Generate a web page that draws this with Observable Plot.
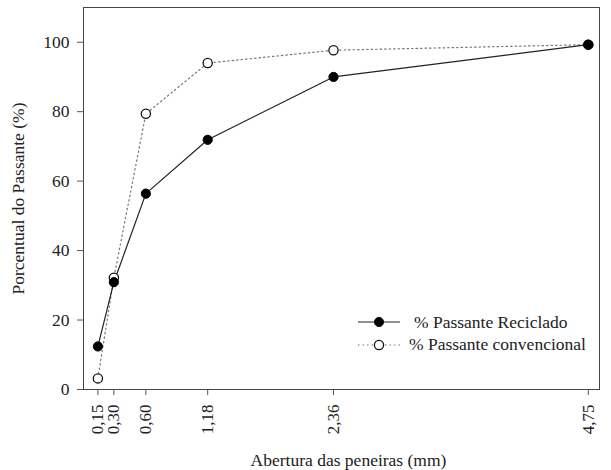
<!DOCTYPE html>
<html>
<head>
<meta charset="utf-8">
<script src="https://cdn.jsdelivr.net/npm/d3@7"></script>
<script src="https://cdn.jsdelivr.net/npm/@observablehq/plot@0.6"></script>
<style>
  html, body { margin: 0; padding: 0; background: #fff; }
  #wrap { position: relative; width: 611px; height: 470px; font-family: 'Liberation Serif', 'DejaVu Serif', serif; }
  #wrap svg, #wrap svg text { font-family: 'Liberation Serif', 'DejaVu Serif', serif !important; }
  #legend { position: absolute; left: 356px; top: 311px; font-size: 17.5px; color: #222; font-family: 'Liberation Serif', 'DejaVu Serif', serif; }
  #legend .row { display: flex; align-items: center; height: 22.5px; }
  #legend svg { display: block; }
</style>
</head>
<body>
<div id="wrap"></div>
<script>
// Sieve openings (mm)
const sieves = [0.15, 0.30, 0.60, 1.18, 2.36, 4.75];
const tickLabels = ["0,15", "0,30", "0,60", "1,18", "2,36", "4,75"];
// % passing
const reciclado = [12.4, 30.9, 56.4, 71.9, 90.0, 99.3];
const convencional = [3.2, 32.2, 79.4, 94.0, 97.7, 99.3];
const yTicks = [0, 20, 40, 60, 80, 100];
const seriesNames = ["% Passante Reciclado", "% Passante convencional"];

const rec = sieves.map((x, i) => ({x, y: reciclado[i]}));
const conv = sieves.map((x, i) => ({x, y: convencional[i]}));

const chart = Plot.plot({
  width: 611,
  height: 470,
  marginLeft: 83,
  marginRight: 12,
  marginTop: 7,
  marginBottom: 81,
  style: { fontSize: "17.5px", color: "#222", background: "#fff" },
  x: { domain: [0.015, 4.855] },
  y: { domain: [0, 110] },
  marks: [
    Plot.frame({ stroke: "#444", strokeWidth: 1 }),
    Plot.axisY({ ticks: yTicks, tickSize: 6, tickPadding: 8, label: null, stroke: "#555", fontSize: 17.5 }),
    Plot.axisX({ ticks: sieves, tickFormat: d => tickLabels[sieves.indexOf(d)], tickRotate: -90, tickSize: 6, tickPadding: 9, label: null, stroke: "#555", fontSize: 17 }),
    Plot.line(conv, { x: "x", y: "y", stroke: "#777", strokeWidth: 1.2, strokeDasharray: "1.5,3" }),
    Plot.line(rec, { x: "x", y: "y", stroke: "#222", strokeWidth: 1.2 }),
    Plot.dot(conv, { x: "x", y: "y", r: 4.6, fill: "#fff", stroke: "#111", strokeWidth: 1.3 }),
    Plot.dot(rec, { x: "x", y: "y", r: 4.6, fill: "#000", stroke: "#000", strokeWidth: 1 }),
    Plot.text(["Porcentual do Passante (%)"], { frameAnchor: "left", textAnchor: "middle", lineAnchor: "middle", dx: -65, rotate: -90, fontSize: 17.5, fill: "#222" }),
    Plot.text(["Abertura das peneiras (mm)"], { frameAnchor: "bottom", textAnchor: "middle", lineAnchor: "middle", dx: 7, dy: 71, fontSize: 17.5, fill: "#222" })
  ]
});
const wrap = document.getElementById("wrap");
wrap.appendChild(chart);

// Legend
const legend = document.createElement("div");
legend.id = "legend";
seriesNames.forEach((name, i) => {
  const row = document.createElement("div");
  row.className = "row";
  const svg = d3.create("svg").attr("width", 52).attr("height", 22);
  svg.append("line").attr("x1", 2).attr("x2", 44).attr("y1", 11).attr("y2", 11)
    .attr("stroke", i === 0 ? "#222" : "#777").attr("stroke-width", 1.2)
    .attr("stroke-dasharray", i === 0 ? null : "1.5,3");
  svg.append("circle").attr("cx", 23).attr("cy", 11).attr("r", 4.6)
    .attr("fill", i === 0 ? "#000" : "#fff").attr("stroke", "#111").attr("stroke-width", i === 0 ? 1 : 1.3);
  row.appendChild(svg.node());
  const span = document.createElement("span");
  span.textContent = name;
  span.style.marginLeft = i === 0 ? "6px" : "1px";
  row.appendChild(span);
  legend.appendChild(row);
});
wrap.appendChild(legend);
</script>
</body>
</html>
